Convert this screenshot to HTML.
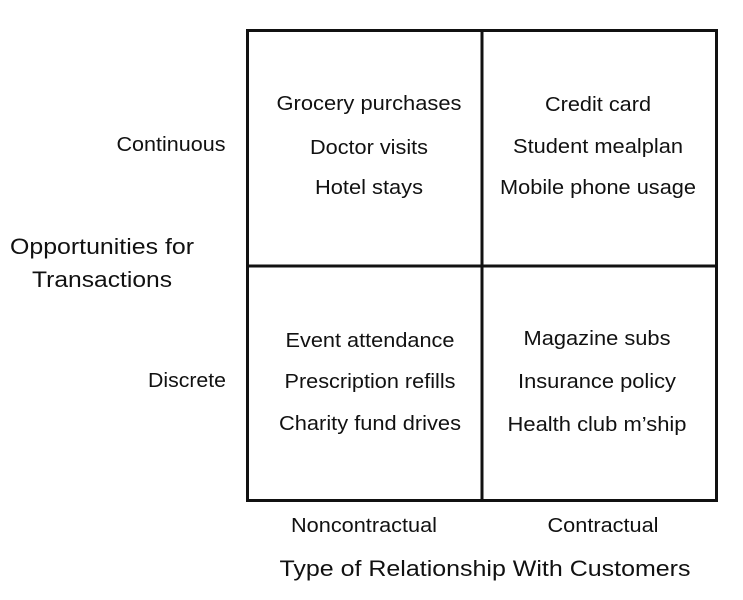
<!DOCTYPE html>
<html><head><meta charset="utf-8"><style>
html,body{margin:0;padding:0;background:#fff;}
svg{display:block;}
text{font-family:"Liberation Sans",Arial,sans-serif;fill:#111;text-anchor:middle;}
</style></head><body>
<svg width="743" height="600" viewBox="0 0 743 600" xmlns="http://www.w3.org/2000/svg">
<g stroke="#111" stroke-width="3" fill="none">
<rect x="247.5" y="30.5" width="469" height="470"/>
<line x1="482" y1="30" x2="482" y2="501"/>
<line x1="247" y1="266" x2="717" y2="266"/>
</g>
<g font-size="20" lengthAdjust="spacingAndGlyphs">
<text x="369" y="110" textLength="185" lengthAdjust="spacingAndGlyphs">Grocery purchases</text>
<text x="369" y="154" textLength="118" lengthAdjust="spacingAndGlyphs">Doctor visits</text>
<text x="369" y="194" textLength="108" lengthAdjust="spacingAndGlyphs">Hotel stays</text>
<text x="598" y="111" textLength="106" lengthAdjust="spacingAndGlyphs">Credit card</text>
<text x="598" y="153" textLength="170" lengthAdjust="spacingAndGlyphs">Student mealplan</text>
<text x="598" y="194" textLength="196" lengthAdjust="spacingAndGlyphs">Mobile phone usage</text>
<text x="370" y="347" textLength="169" lengthAdjust="spacingAndGlyphs">Event attendance</text>
<text x="370" y="388" textLength="171" lengthAdjust="spacingAndGlyphs">Prescription refills</text>
<text x="370" y="430" textLength="182" lengthAdjust="spacingAndGlyphs">Charity fund drives</text>
<text x="597" y="345" textLength="147" lengthAdjust="spacingAndGlyphs">Magazine subs</text>
<text x="597" y="388" textLength="158" lengthAdjust="spacingAndGlyphs">Insurance policy</text>
<text x="597" y="431" textLength="179" lengthAdjust="spacingAndGlyphs">Health club m’ship</text>
<text x="171" y="151" textLength="109" lengthAdjust="spacingAndGlyphs">Continuous</text>
<text x="187" y="387" textLength="78" lengthAdjust="spacingAndGlyphs">Discrete</text>
<text x="364" y="532" textLength="146" lengthAdjust="spacingAndGlyphs">Noncontractual</text>
<text x="603" y="532" textLength="111" lengthAdjust="spacingAndGlyphs">Contractual</text>
</g>
<g font-size="22">
<text x="102" y="254" textLength="184" lengthAdjust="spacingAndGlyphs">Opportunities for</text>
<text x="102" y="287" textLength="140" lengthAdjust="spacingAndGlyphs">Transactions</text>
<text x="485" y="576" textLength="411" lengthAdjust="spacingAndGlyphs">Type of Relationship With Customers</text>
</g>
</svg>
</body></html>
